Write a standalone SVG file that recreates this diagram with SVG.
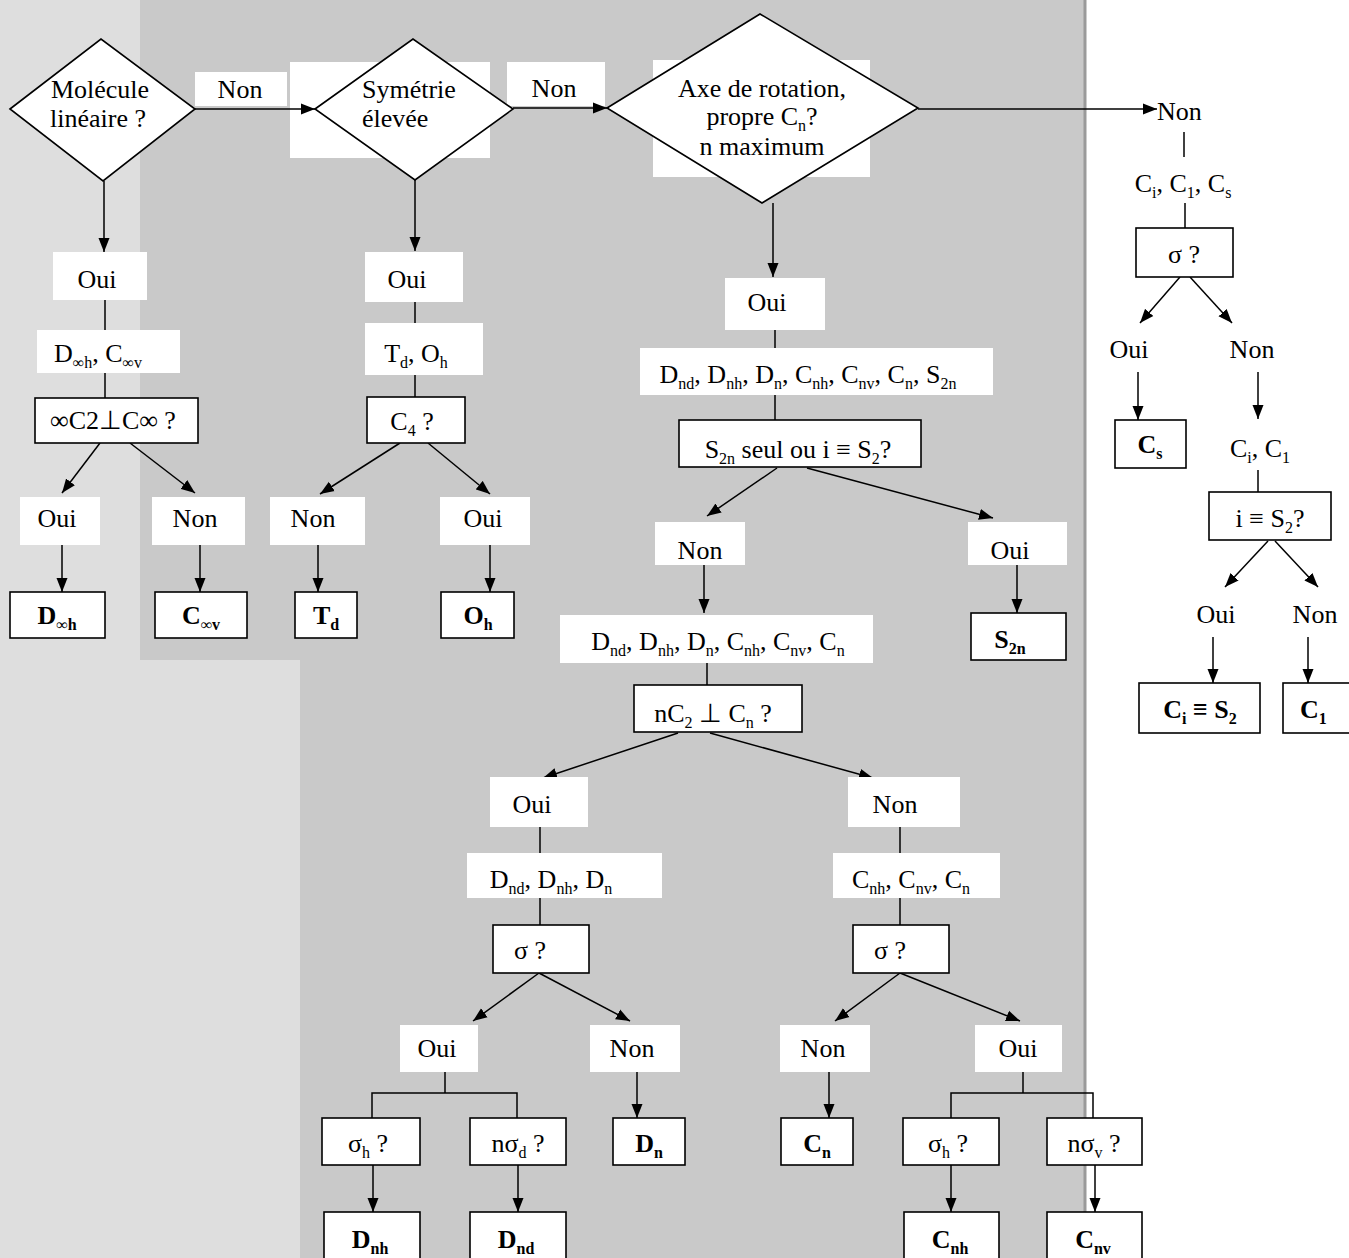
<svg xmlns="http://www.w3.org/2000/svg" width="1349" height="1258" viewBox="0 0 1349 1258">
<defs>
<marker id="ah" viewBox="0 0 14 12" markerWidth="14" markerHeight="12" refX="14" refY="6" orient="auto" markerUnits="userSpaceOnUse"><path d="M0,0.5 L14,6 L0,11.5 z" fill="#000"/></marker>
<style>
.t{font-family:"Liberation Serif","Times New Roman",serif;font-size:26px;fill:#000}
.m{text-anchor:middle}
.b{font-weight:bold}
.s{font-size:16px}
.box{fill:#fff;stroke:#000;stroke-width:1.6}
.dia{fill:#fff;stroke:#000;stroke-width:1.6}
.wb{fill:#fff}
.c line,.c polyline{stroke:#000;stroke-width:1.5;fill:none}
.c .a{marker-end:url(#ah)}
</style>
</defs>
<g id="background">
<rect x="0" y="0" width="1349" height="1258" fill="#fff"/>
<rect x="0" y="0" width="1085" height="1258" fill="#c9c9c9"/>
<rect x="0" y="0" width="140" height="1258" fill="#dedede"/>
<rect x="140" y="660" width="160" height="598" fill="#dedede"/>
<line x1="1085" y1="0" x2="1085" y2="1258" stroke="#9a9a9a" stroke-width="3"/>
</g>

<g id="label-bg">
<rect class="wb" x="195" y="72" width="92" height="34"/>
<rect class="wb" x="507" y="62" width="98" height="44"/>
<rect class="wb" x="290" y="62" width="200" height="96"/>
<rect class="wb" x="653" y="60" width="217" height="117"/>
</g>

<g id="n-lineaire">
<polygon class="dia" points="10,109 101,39 195,109 103,181"/>
<text class="t m" x="100" y="98">Molécule</text>
<text class="t m" x="98" y="127">linéaire ?</text>
</g>
<g id="n-sym">
<polygon class="dia" points="315,109 413,39 513,109 415,180"/>
<text class="t" x="362" y="98">Symétrie</text>
<text class="t" x="362" y="127">élevée</text>
</g>
<g id="n-axe">
<polygon class="dia" points="607,108 760,14 918,108 762,203"/>
<text class="t m" x="762" y="97">Axe de rotation,</text>
<text class="t m" x="762" y="125">propre C<tspan class="s" dy="6">n</tspan><tspan dy="-6">?</tspan></text>
<text class="t m" x="762" y="155">n maximum</text>
</g>
<g id="l-non1"><text class="t m" x="240" y="98">Non</text></g>
<g id="l-non2"><text class="t m" x="554" y="97">Non</text></g>

<g id="connectors" class="c">
<line class="a" x1="195" y1="109" x2="315" y2="109"/>
<line class="a" x1="513" y1="108" x2="607" y2="108"/>
<line class="a" x1="918" y1="109" x2="1157" y2="109"/>
<line class="a" x1="104" y1="181" x2="104" y2="252"/>
<line class="a" x1="415" y1="180" x2="415" y2="251"/>
<line class="a" x1="773" y1="203" x2="773" y2="277"/>
<line x1="1184" y1="132" x2="1184" y2="157"/>
<line x1="1185" y1="203" x2="1185" y2="228"/>
<line class="a" x1="1180" y1="277" x2="1140" y2="323"/>
<line class="a" x1="1190" y1="277" x2="1232" y2="323"/>
<line class="a" x1="1138" y1="372" x2="1138" y2="420"/>
<line class="a" x1="1258" y1="372" x2="1258" y2="419"/>
<line x1="1258" y1="470" x2="1258" y2="492"/>
<line class="a" x1="1268" y1="541" x2="1225" y2="587"/>
<line class="a" x1="1275" y1="541" x2="1318" y2="587"/>
<line class="a" x1="1213" y1="637" x2="1213" y2="683"/>
<line class="a" x1="1308" y1="637" x2="1308" y2="683"/>
<line x1="105" y1="300" x2="105" y2="330"/>
<line x1="105" y1="373" x2="105" y2="398"/>
<line class="a" x1="100" y1="443" x2="62" y2="493"/>
<line class="a" x1="130" y1="443" x2="195" y2="493"/>
<line class="a" x1="62" y1="545" x2="62" y2="592"/>
<line class="a" x1="200" y1="545" x2="200" y2="592"/>
<line x1="415" y1="302" x2="415" y2="323"/>
<line x1="415" y1="375" x2="415" y2="397"/>
<line class="a" x1="400" y1="443" x2="320" y2="494"/>
<line class="a" x1="428" y1="443" x2="490" y2="494"/>
<line class="a" x1="318" y1="545" x2="318" y2="592"/>
<line class="a" x1="490" y1="545" x2="490" y2="592"/>
<line x1="775" y1="330" x2="775" y2="348"/>
<line x1="775" y1="395" x2="775" y2="420"/>
<line class="a" x1="777" y1="468" x2="707" y2="516"/>
<line class="a" x1="807" y1="468" x2="993" y2="518"/>
<line class="a" x1="704" y1="565" x2="704" y2="613"/>
<line class="a" x1="1017" y1="565" x2="1017" y2="613"/>
<line x1="707" y1="663" x2="707" y2="685"/>
<line class="a" x1="678" y1="733" x2="543" y2="778"/>
<line class="a" x1="710" y1="733" x2="873" y2="778"/>
<line x1="540" y1="827" x2="540" y2="853"/>
<line x1="540" y1="898" x2="540" y2="925"/>
<line class="a" x1="539" y1="973" x2="473" y2="1021"/>
<line class="a" x1="539" y1="973" x2="630" y2="1021"/>
<line x1="900" y1="827" x2="900" y2="853"/>
<line x1="900" y1="898" x2="900" y2="925"/>
<line class="a" x1="900" y1="973" x2="835" y2="1021"/>
<line class="a" x1="900" y1="973" x2="1020" y2="1021"/>
<line x1="445" y1="1072" x2="445" y2="1093"/>
<polyline points="372,1118 372,1093 517,1093 517,1118"/>
<line x1="1023" y1="1072" x2="1023" y2="1093"/>
<polyline points="951,1118 951,1093 1093,1093 1093,1118"/>
<line class="a" x1="637" y1="1072" x2="637" y2="1118"/>
<line class="a" x1="829" y1="1072" x2="829" y2="1118"/>
<line class="a" x1="373" y1="1165" x2="373" y2="1212"/>
<line class="a" x1="518" y1="1165" x2="518" y2="1212"/>
<line class="a" x1="951" y1="1165" x2="951" y2="1212"/>
<line class="a" x1="1095" y1="1165" x2="1095" y2="1212"/>
</g>

<!-- right column -->
<g id="l-non3"><text class="t" x="1157" y="120">Non</text></g>
<g id="n-ci-c1-cs"><text class="t m" x="1183" y="192">C<tspan class="s" dy="6">i</tspan><tspan dy="-6">, C</tspan><tspan class="s" dy="6">1</tspan><tspan dy="-6">, C</tspan><tspan class="s" dy="6">s</tspan></text></g>
<g id="n-sigma1"><rect class="box" x="1136" y="228" width="97" height="49"/><text class="t m" x="1184" y="263">σ ?</text></g>
<g id="l-oui-r1"><text class="t m" x="1129" y="358">Oui</text></g>
<g id="l-non-r1"><text class="t m" x="1252" y="358">Non</text></g>
<g id="n-cs"><rect class="box" x="1115" y="420" width="71" height="48"/><text class="t m b" x="1150" y="453">C<tspan class="s" dy="6">s</tspan></text></g>
<g id="n-ci-c1"><text class="t m" x="1260" y="457">C<tspan class="s" dy="6">i</tspan><tspan dy="-6">, C</tspan><tspan class="s" dy="6">1</tspan></text></g>
<g id="n-i-s2"><rect class="box" x="1209" y="492" width="122" height="48"/><text class="t m" x="1270" y="527">i ≡ S<tspan class="s" dy="6">2</tspan><tspan dy="-6">?</tspan></text></g>
<g id="l-oui-r2"><text class="t m" x="1216" y="623">Oui</text></g>
<g id="l-non-r2"><text class="t m" x="1315" y="623">Non</text></g>
<g id="n-ci"><rect class="box" x="1139" y="683" width="121" height="50"/><text class="t m b" x="1200" y="718">C<tspan class="s" dy="6">i</tspan><tspan dy="-6"> ≡ S</tspan><tspan class="s" dy="6">2</tspan></text></g>
<g id="n-c1"><rect class="box" x="1283" y="683" width="72" height="50"/><text class="t b" x="1300" y="718">C<tspan class="s" dy="6">1</tspan></text></g>

<!-- left column -->
<g id="l-oui-a"><rect class="wb" x="53" y="252" width="94" height="48"/><text class="t m" x="97" y="288">Oui</text></g>
<g id="n-dinf"><rect class="wb" x="37" y="330" width="143" height="43"/><text class="t m" x="98" y="362">D<tspan class="s" dy="6">∞h</tspan><tspan dy="-6">, C</tspan><tspan class="s" dy="6">∞v</tspan></text></g>
<g id="n-c2perp"><rect class="box" x="35" y="398" width="163" height="45"/><text class="t m" x="113" y="429">∞C2⊥C∞ ?</text></g>
<g id="l-oui-b"><rect class="wb" x="20" y="497" width="80" height="48"/><text class="t m" x="57" y="527">Oui</text></g>
<g id="l-non-b"><rect class="wb" x="152" y="497" width="93" height="48"/><text class="t m" x="195" y="527">Non</text></g>
<g id="n-dinfh"><rect class="box" x="10" y="592" width="95" height="46"/><text class="t m b" x="57" y="624">D<tspan class="s" dy="6">∞h</tspan></text></g>
<g id="n-cinfv"><rect class="box" x="155" y="592" width="92" height="46"/><text class="t m b" x="201" y="624">C<tspan class="s" dy="6">∞v</tspan></text></g>

<!-- second column -->
<g id="l-oui-c"><rect class="wb" x="365" y="252" width="98" height="50"/><text class="t m" x="407" y="288">Oui</text></g>
<g id="n-td-oh"><rect class="wb" x="365" y="323" width="118" height="52"/><text class="t m" x="416" y="362">T<tspan class="s" dy="6">d</tspan><tspan dy="-6">, O</tspan><tspan class="s" dy="6">h</tspan></text></g>
<g id="n-c4"><rect class="box" x="367" y="397" width="98" height="46"/><text class="t m" x="412" y="430">C<tspan class="s" dy="6">4</tspan><tspan dy="-6"> ?</tspan></text></g>
<g id="l-non-c"><rect class="wb" x="270" y="497" width="95" height="48"/><text class="t m" x="313" y="527">Non</text></g>
<g id="l-oui-d"><rect class="wb" x="440" y="497" width="90" height="48"/><text class="t m" x="483" y="527">Oui</text></g>
<g id="n-td"><rect class="box" x="295" y="592" width="62" height="46"/><text class="t m b" x="326" y="624">T<tspan class="s" dy="6">d</tspan></text></g>
<g id="n-oh"><rect class="box" x="441" y="592" width="73" height="46"/><text class="t m b" x="478" y="624">O<tspan class="s" dy="6">h</tspan></text></g>

<!-- middle column -->
<g id="l-oui-e"><rect class="wb" x="725" y="278" width="100" height="52"/><text class="t m" x="767" y="311">Oui</text></g>
<g id="n-all"><rect class="wb" x="640" y="348" width="353" height="47"/><text class="t m" x="808" y="383">D<tspan class="s" dy="6">nd</tspan><tspan dy="-6">, D</tspan><tspan class="s" dy="6">nh</tspan><tspan dy="-6">, D</tspan><tspan class="s" dy="6">n</tspan><tspan dy="-6">, C</tspan><tspan class="s" dy="6">nh</tspan><tspan dy="-6">, C</tspan><tspan class="s" dy="6">nv</tspan><tspan dy="-6">, C</tspan><tspan class="s" dy="6">n</tspan><tspan dy="-6">, S</tspan><tspan class="s" dy="6">2n</tspan></text></g>
<g id="n-s2n-q"><rect class="box" x="679" y="420" width="242" height="47"/><text class="t m" x="798" y="458">S<tspan class="s" dy="6">2n</tspan><tspan dy="-6"> seul ou i ≡ S</tspan><tspan class="s" dy="6">2</tspan><tspan dy="-6">?</tspan></text></g>
<g id="l-non-e"><rect class="wb" x="655" y="522" width="90" height="43"/><text class="t m" x="700" y="559">Non</text></g>
<g id="l-oui-f"><rect class="wb" x="968" y="522" width="99" height="43"/><text class="t m" x="1010" y="559">Oui</text></g>
<g id="n-s2n"><rect class="box" x="971" y="613" width="95" height="47"/><text class="t m b" x="1010" y="648">S<tspan class="s" dy="6">2n</tspan></text></g>
<g id="n-dc"><rect class="wb" x="560" y="615" width="313" height="48"/><text class="t m" x="718" y="650">D<tspan class="s" dy="6">nd</tspan><tspan dy="-6">, D</tspan><tspan class="s" dy="6">nh</tspan><tspan dy="-6">, D</tspan><tspan class="s" dy="6">n</tspan><tspan dy="-6">, C</tspan><tspan class="s" dy="6">nh</tspan><tspan dy="-6">, C</tspan><tspan class="s" dy="6">nv</tspan><tspan dy="-6">, C</tspan><tspan class="s" dy="6">n</tspan></text></g>
<g id="n-nc2"><rect class="box" x="634" y="685" width="168" height="47"/><text class="t m" x="713" y="722">nC<tspan class="s" dy="6">2</tspan><tspan dy="-6"> ⊥ C</tspan><tspan class="s" dy="6">n</tspan><tspan dy="-6"> ?</tspan></text></g>
<g id="l-oui-g"><rect class="wb" x="490" y="777" width="98" height="50"/><text class="t m" x="532" y="813">Oui</text></g>
<g id="l-non-g"><rect class="wb" x="848" y="777" width="112" height="50"/><text class="t m" x="895" y="813">Non</text></g>
<g id="n-d"><rect class="wb" x="467" y="853" width="195" height="45"/><text class="t m" x="551" y="888">D<tspan class="s" dy="6">nd</tspan><tspan dy="-6">, D</tspan><tspan class="s" dy="6">nh</tspan><tspan dy="-6">, D</tspan><tspan class="s" dy="6">n</tspan></text></g>
<g id="n-sigma-d"><rect class="box" x="493" y="925" width="96" height="48"/><text class="t m" x="530" y="959">σ ?</text></g>
<g id="n-c"><rect class="wb" x="833" y="853" width="167" height="45"/><text class="t m" x="911" y="888">C<tspan class="s" dy="6">nh</tspan><tspan dy="-6">, C</tspan><tspan class="s" dy="6">nv</tspan><tspan dy="-6">, C</tspan><tspan class="s" dy="6">n</tspan></text></g>
<g id="n-sigma-c"><rect class="box" x="853" y="925" width="96" height="48"/><text class="t m" x="890" y="959">σ ?</text></g>

<!-- bottom -->
<g id="l-oui-h"><rect class="wb" x="400" y="1025" width="78" height="47"/><text class="t m" x="437" y="1057">Oui</text></g>
<g id="l-non-h"><rect class="wb" x="590" y="1025" width="90" height="47"/><text class="t m" x="632" y="1057">Non</text></g>
<g id="l-non-i"><rect class="wb" x="780" y="1025" width="90" height="47"/><text class="t m" x="823" y="1057">Non</text></g>
<g id="l-oui-i"><rect class="wb" x="975" y="1025" width="87" height="47"/><text class="t m" x="1018" y="1057">Oui</text></g>
<g id="n-sh-d"><rect class="box" x="322" y="1118" width="98" height="47"/><text class="t m" x="368" y="1152">σ<tspan class="s" dy="6">h</tspan><tspan dy="-6"> ?</tspan></text></g>
<g id="n-nsd"><rect class="box" x="470" y="1118" width="96" height="47"/><text class="t m" x="518" y="1152">nσ<tspan class="s" dy="6">d</tspan><tspan dy="-6"> ?</tspan></text></g>
<g id="n-dn"><rect class="box" x="613" y="1118" width="72" height="47"/><text class="t m b" x="649" y="1152">D<tspan class="s" dy="6">n</tspan></text></g>
<g id="n-cn"><rect class="box" x="781" y="1118" width="72" height="47"/><text class="t m b" x="817" y="1152">C<tspan class="s" dy="6">n</tspan></text></g>
<g id="n-sh-c"><rect class="box" x="903" y="1118" width="96" height="47"/><text class="t m" x="948" y="1152">σ<tspan class="s" dy="6">h</tspan><tspan dy="-6"> ?</tspan></text></g>
<g id="n-nsv"><rect class="box" x="1047" y="1118" width="95" height="47"/><text class="t m" x="1094" y="1152">nσ<tspan class="s" dy="6">v</tspan><tspan dy="-6"> ?</tspan></text></g>
<g id="n-dnh"><rect class="box" x="324" y="1212" width="96" height="52"/><text class="t m b" x="370" y="1248">D<tspan class="s" dy="6">nh</tspan></text></g>
<g id="n-dnd"><rect class="box" x="470" y="1212" width="96" height="52"/><text class="t m b" x="516" y="1248">D<tspan class="s" dy="6">nd</tspan></text></g>
<g id="n-cnh"><rect class="box" x="904" y="1212" width="95" height="52"/><text class="t m b" x="950" y="1248">C<tspan class="s" dy="6">nh</tspan></text></g>
<g id="n-cnv"><rect class="box" x="1047" y="1212" width="95" height="52"/><text class="t m b" x="1093" y="1248">C<tspan class="s" dy="6">nv</tspan></text></g>
</svg>
